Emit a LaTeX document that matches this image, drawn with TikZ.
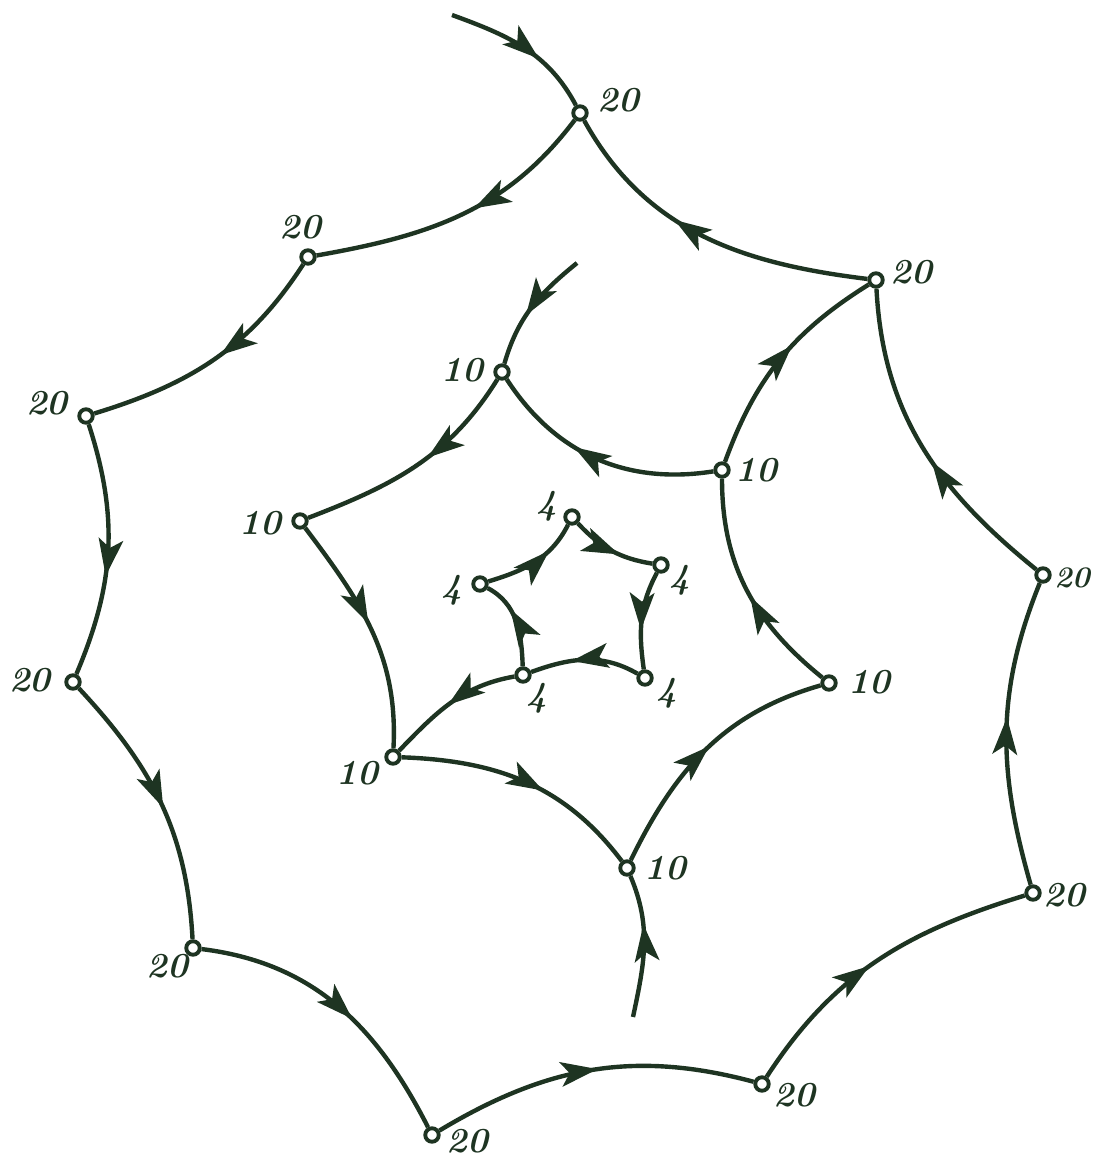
\documentclass[tikz,border=0pt]{standalone}
\usetikzlibrary{arrows.meta,decorations.markings}
\definecolor{ink}{RGB}{30,52,34}
\begin{document}
\begin{tikzpicture}[x=0.02cm,y=0.02cm,
  pt/.style={circle,draw=ink,fill=white,line width=2.2pt,minimum size=0.27cm,inner sep=0pt},
  lbl/.style={text=ink,inner sep=0pt,font=\fontsize{20}{23}\selectfont\bfseries\itshape},
  lbls/.style={text=ink,inner sep=0pt,font=\fontsize{17}{20}\selectfont\bfseries\itshape},
  ln/.style={draw=ink,line width=2.5pt},
  mk/.style={postaction={decorate,decoration={markings,mark=at position #1 with {\arrow[ink]{Stealth[length=21pt,width=14pt,inset=5pt]}}}}},
  mk/.default=0.5]
\useasboundingbox (0,0) rectangle (1093,-1159);
% outer ring
\node[pt] (O1) at (580,-113) {};
\node[pt] (O2) at (308,-257) {};
\node[pt] (O3) at (86,-416) {};
\node[pt] (O4) at (73,-682) {};
\node[pt] (O5) at (193,-948) {};
\node[pt] (O6) at (432,-1135) {};
\node[pt] (O7) at (762,-1084) {};
\node[pt] (O8) at (1033,-893) {};
\node[pt] (O9) at (1043,-575) {};
\node[pt] (O10) at (876,-280) {};
% middle ring
\node[pt] (M1) at (502,-372) {};
\node[pt] (M2) at (300,-521) {};
\node[pt] (M3) at (393,-757) {};
\node[pt] (M4) at (627,-868) {};
\node[pt] (M5) at (829,-683) {};
\node[pt] (M6) at (722,-470) {};
% inner ring
\node[pt] (I1) at (572,-517) {};
\node[pt] (I2) at (661,-565) {};
\node[pt] (I3) at (645,-678) {};
\node[pt] (I4) at (523,-675) {};
\node[pt] (I5) at (480,-584) {};
% free ends
\coordinate (T1) at (452,-15);
\coordinate (T2) at (577,-263);
\coordinate (T3) at (633,-1017);
% labels
\node[lbl] (lO1) at (618,-100) {20};
\node[lbl] (lO2) at (300,-227) {20};
\node[lbl] (lO3) at (47,-403) {20};
\node[lbl] (lO4) at (30,-680) {20};
\node[lbl] (lO5) at (167,-966) {20};
\node[lbl] (lO6) at (467,-1141) {20};
\node[lbl] (lO7) at (794,-1095) {20};
\node[lbl] (lO8) at (1064,-895) {20};
\node[lbls] (lO9) at (1072,-578) {20};
\node[lbl] (lO10) at (911,-272) {20};
\node[lbl] (lM1) at (462,-370) {10};
\node[lbl] (lM2) at (260,-523) {10};
\node[lbl] (lM3) at (357,-773) {10};
\node[lbl] (lM4) at (665,-868) {10};
\node[lbl] (lM5) at (869,-682) {10};
\node[lbl] (lM6) at (756,-470) {10};
\node[lbl] (lI1) at (547,-506) {4};
\node[lbl] (lI2) at (680,-580) {4};
\node[lbl] (lI3) at (667,-693) {4};
\node[lbl] (lI4) at (537,-698) {4};
\node[lbl] (lI5) at (452,-590) {4};
% outer edges
\path[ln,mk=0.62] (T1) to[out=340,in=118] (O1);
\path[ln,mk=0.45] (O1) to[out=233,in=10] (O2);
\path[ln,mk=0.47] (O2) to[out=237,in=17] (O3);
\path[ln,mk=0.6]  (O3) to[out=288,in=67] (O4);
\path[ln,mk=0.52] (O4) to[out=313,in=93] (O5);
\path[ln,mk=0.56] (O5) to[out=353,in=117] (O6);
\path[ln,mk=0.52] (O6) to[out=31,in=165] (O7);
\path[ln,mk=0.47] (O7) to[out=57,in=197] (O8);
\path[ln,mk=0.55] (O8) to[out=106,in=248] (O9);
\path[ln,mk=0.45] (O9) to[out=141,in=273] (O10);
\path[ln,mk=0.6]  (O10) to[out=173,in=299] (O1);
% middle edges
\path[ln,mk=0.58] (T2) to[out=219,in=74] (M1);
\path[ln,mk=0.44] (M1) to[out=238,in=21] (M2);
\path[ln,mk=0.47] (M2) to[out=307,in=87] (M3);
\path[ln,mk=0.58] (M3) to[out=358,in=127] (M4);
\path[ln,mk=0.52] (M4) to[out=64,in=196] (M5);
\path[ln,mk=0.47] (M5) to[out=141,in=270] (M6);
\path[ln,mk=0.6]  (M6) to[out=189,in=303] (M1);
\path[ln,mk=0.58] (M6) to[out=70,in=212] (O10);
\path[ln,mk=0.65] (T3) to[out=78,in=293] (M4);
% inner edges
\path[ln,mk=0.6]  (I1) to[out=313,in=171] (I2);
\path[ln,mk=0.6]  (I2) to[out=242,in=98] (I3);
\path[ln,mk=0.62] (I3) to[out=150,in=20] (I4);
\path[ln,mk=0.65] (I4) to[out=92,in=332] (I5);
\path[ln,mk=0.68] (I5) to[out=17,in=243] (I1);
\path[ln,mk=0.52] (I4) to[out=190,in=46] (M3);
\end{tikzpicture}
\end{document}
